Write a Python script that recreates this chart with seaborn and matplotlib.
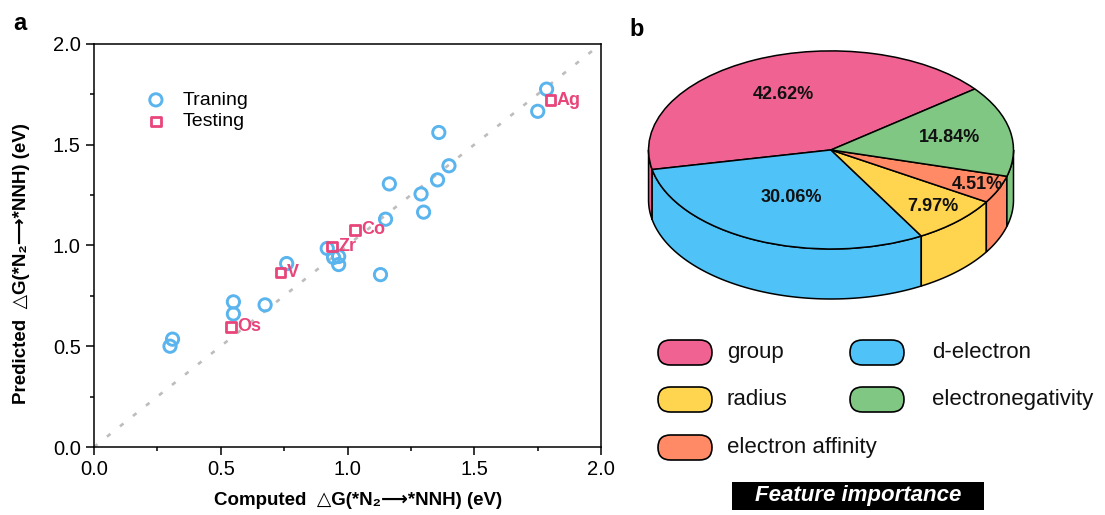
import numpy as np
import matplotlib
matplotlib.use('Agg')
import matplotlib.pyplot as plt
import seaborn as sns
from matplotlib.patches import FancyBboxPatch, Rectangle

# panel a: computed vs predicted dG (eV)
train_x = [0.30, 0.31, 0.55, 0.55, 0.675, 0.76, 0.92, 0.945, 0.965, 0.965,
           1.13, 1.15, 1.165, 1.29, 1.30, 1.355, 1.36, 1.40, 1.75, 1.785]
train_y = [0.50, 0.535, 0.66, 0.72, 0.705, 0.91, 0.985, 0.94, 0.945, 0.905,
           0.855, 1.13, 1.305, 1.255, 1.165, 1.325, 1.56, 1.395, 1.665, 1.775]
test_x = [1.80, 1.03, 0.94, 0.736, 0.54]
test_y = [1.72, 1.077, 0.994, 0.866, 0.596]
test_names = ['Ag', 'Co', 'Zr', 'V', 'Os']

# panel b: feature importance (%)
features = ['group', 'd-electron', 'radius', 'electron affinity', 'electronegativity']
importance = [42.62, 30.06, 7.97, 4.51, 14.84]
feat_colors = ['#F06292', '#4FC3F7', '#FFD54F', '#FF8A65', '#81C784']
label_radius = [0.62, 0.53, 0.80, 0.875, 0.66]
# legend grid slot (col, row) for each feature
legend_slot = [(0, 0), (1, 0), (0, 1), (0, 2), (1, 1)]

blue = '#5AB4EE'
pink = '#E8457A'

sns.set_theme(style='ticks')
plt.rcParams['font.family'] = ['Liberation Sans', 'DejaVu Sans']
plt.rcParams['axes.unicode_minus'] = False
for key in ['text.color', 'axes.labelcolor', 'xtick.color', 'ytick.color']:
    plt.rcParams[key] = 'black'

fig = plt.figure(figsize=(11.05, 5.15), dpi=100)

# ---------------- panel a ----------------
ax = fig.add_axes([0.085, 0.132, 0.459, 0.783])
ax.axline((0, 0), slope=1, color='#BDBDBD', lw=1.9, dashes=(1.7, 4.6), zorder=1)
sns.scatterplot(x=train_x, y=train_y, ax=ax, marker='o', s=78, color=blue,
                facecolor='none', edgecolor=blue, linewidth=2.1,
                label='Traning', zorder=3)
sns.scatterplot(x=test_x, y=test_y, ax=ax, marker='s', s=48, color=pink,
                facecolor='none', edgecolor=pink, linewidth=2.0,
                label='Testing', zorder=4)
for name, x, y in zip(test_names, test_x, test_y):
    ax.annotate(name, (x, y), xytext=(4.5, 0), textcoords='offset points',
                color=pink, fontsize=13, fontweight='bold',
                ha='left', va='center', zorder=5)

ax.set_xlim(0, 2)
ax.set_ylim(0, 2)
ax.set_xticks(np.arange(0, 2.01, 0.5))
ax.set_yticks(np.arange(0, 2.01, 0.5))
ax.set_xticks(np.arange(0.25, 2, 0.5), minor=True)
ax.set_yticks(np.arange(0.25, 2, 0.5), minor=True)
ax.xaxis.set_major_formatter(matplotlib.ticker.FormatStrFormatter('%.1f'))
ax.yaxis.set_major_formatter(matplotlib.ticker.FormatStrFormatter('%.1f'))
ax.tick_params(which='both', direction='out', top=False, right=False,
               width=1.1, color='black', labelcolor='black', labelsize=14.5)
ax.tick_params(which='major', length=6)
ax.tick_params(which='minor', length=3)
for sp in ax.spines.values():
    sp.set_visible(True)
    sp.set_linewidth(1.1)
    sp.set_color('black')
dg = '\u25b3G(*N\u2082\u27f6*NNH) (eV)'
ax.set_xlabel('Computed  ' + dg, fontsize=13.5, fontweight='bold')
ax.set_ylabel('Predicted  ' + dg, fontsize=13.5, fontweight='bold')
ax.xaxis.label.set_va('center')
ax.yaxis.label.set_va('center')
ax.xaxis.set_label_coords((358 - 94) / 507, (447 - 500) / 403)
ax.yaxis.set_label_coords((22 - 94) / 507, (447 - 264) / 403)
ax.legend(loc='upper left', bbox_to_anchor=(0.103, 0.882), frameon=False,
          fontsize=14, handlelength=1.0, handletextpad=0.85,
          labelspacing=0.2, borderpad=0, borderaxespad=0)

fig.text(20 / 1105, 1 - 23 / 515, 'a', fontsize=17, fontweight='bold',
         ha='center', va='center')
fig.text(637 / 1105, 1 - 30 / 515, 'b', fontsize=17, fontweight='bold',
         ha='center', va='center')

# ---------------- panel b: 3D-looking pie ----------------
depth = 0.505
pax = fig.add_axes([0.5704, 0.4002, 0.3633, 0.5202])
wedges, _, autotexts = pax.pie(
    importance, colors=feat_colors, startangle=38, counterclock=True,
    autopct='%.2f%%', pctdistance=0.6,
    wedgeprops=dict(edgecolor='black', linewidth=1.1),
    textprops=dict(fontsize=13, fontweight='bold', color='#111111'))
for w, t, r in zip(wedges, autotexts, label_radius):
    mid = np.radians((w.theta1 + w.theta2) / 2)
    t.set_position((r * np.cos(mid), r * np.sin(mid)))
    t.set_zorder(5)

# side walls for the front half of the disc
for w, col in zip(wedges, feat_colors):
    for lo, hi in [(180, 360), (540, 720)]:
        a0, a1 = max(w.theta1, lo), min(w.theta2, hi)
        if a1 <= a0:
            continue
        t = np.radians(np.linspace(a0, a1, 80))
        xs = np.concatenate([np.cos(t), np.cos(t[::-1])])
        ys = np.concatenate([np.sin(t), np.sin(t[::-1]) - depth])
        pax.fill(xs, ys, facecolor=col, edgecolor='black', linewidth=1.1,
                 zorder=0.5)

pax.set_aspect('auto')
pax.set_xlim(-1.1, 1.1)
pax.set_ylim(-1.1 - depth, 1.1)
pax.axis('off')

# ---------------- legend + caption (pixel coords) ----------------
lax = fig.add_axes([0, 0, 1, 1])
lax.set_xlim(0, 1105)
lax.set_ylim(515, 0)
lax.axis('off')
col_x = [658, 850]
text_gap = [15, 28]
row_y = [352.5, 399.5, 447.5]
for name, col, (ci, ri) in zip(features, feat_colors, legend_slot):
    x0, yc = col_x[ci], row_y[ri]
    lax.add_patch(FancyBboxPatch((x0, yc - 12.5), 54, 25,
                                 boxstyle='round,pad=0,rounding_size=12.5',
                                 facecolor=col, edgecolor='black', linewidth=1.2))
    lax.text(x0 + 54 + text_gap[ci], yc, name, fontsize=16, ha='left',
             va='center', color='#111111')

lax.add_patch(Rectangle((732, 482), 252, 28, facecolor='black', edgecolor='none'))
lax.text(858, 496, 'Feature importance', fontsize=16, fontweight='bold',
         fontstyle='italic', color='white', ha='center', va='center')

fig.savefig('out.png', dpi=100)
